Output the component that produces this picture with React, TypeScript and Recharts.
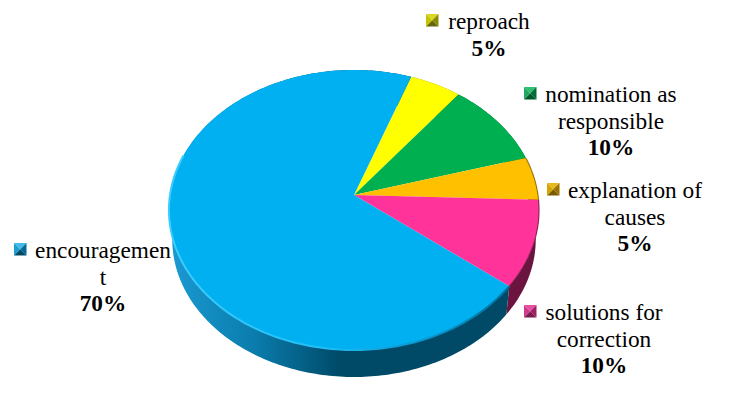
import { PieChart, Pie, Cell } from "recharts";

const categories = [
  "reproach",
  "nomination as responsible",
  "explanation of causes",
  "solutions for correction",
  "encouragement",
];
const shares = [5, 10, 5, 10, 70];
const labelLines = [
  ["reproach"],
  ["nomination as", "responsible"],
  ["explanation of", "causes"],
  ["solutions for", "correction"],
  ["encouragemen", "t"],
];
const faceColors = ["#FFFF00", "#00B050", "#FFC000", "#FF3399", "#00B0F0"];
const wallColors = ["#7F7F00", "#00582A", "#806000", "#6B1440", "#004A68"];
// marker facets: top, right, bottom, left
const markerShades = [
  ["#D9D926", "#8C8C00", "#66660A", "#C4C400"],
  ["#2EBE74", "#006E33", "#00582A", "#1FA860"],
  ["#E8B820", "#9A7300", "#7A5C00", "#D4A400"],
  ["#E84FA0", "#A02068", "#7A1A4E", "#D03A8C"],
  ["#3FBCEC", "#006A94", "#004A68", "#1E9FD2"],
];

// where each label block sits: centre x, first baseline, marker x
const labelLayout = [
  { x: 489, y: 29, mx: 426 },
  { x: 611, y: 102, mx: 524 },
  { x: 635, y: 198, mx: 547 },
  { x: 604, y: 320, mx: 524 },
  { x: 103, y: 258, mx: 14 },
];

const WIDTH = 749;
const HEIGHT = 418;
const TILT_Y = 138.4 / 184; // vertical squash of the disc
const PERSPECTIVE = 0.107; // far edge looks smaller than near edge
const WALL_DROP = 29.8;
const WALL_SHRINK = 0.982;

// tilted-disc projection of a polar point
function project(cx: number, cy: number, r: number, deg: number) {
  const a = (deg * Math.PI) / 180;
  const u = Math.cos(a);
  const v = Math.sin(a);
  const w = 1 + PERSPECTIVE * v;
  return { x: cx + (r * u) / w, y: cy - (r * TILT_Y * v) / w };
}

function arcPoints(cx: number, cy: number, r: number, from: number, to: number) {
  const steps = Math.max(2, Math.ceil(Math.abs(from - to)));
  const pts = [];
  for (let i = 0; i <= steps; i++) {
    pts.push(project(cx, cy, r, from + ((to - from) * i) / steps));
  }
  return pts;
}

const toPath = (pts: { x: number; y: number }[]) =>
  pts.map((p, i) => `${i ? "L" : "M"}${p.x.toFixed(2)} ${p.y.toFixed(2)}`).join(" ");

function WallShape(props: any) {
  const { cx, cy, outerRadius, startAngle, endAngle, index } = props;
  const top = arcPoints(cx, cy, outerRadius, startAngle, endAngle);
  const bottom = top
    .map((p) => ({
      x: cx + (p.x - cx) * WALL_SHRINK,
      y: cy + (p.y - cy) * WALL_SHRINK + WALL_DROP,
    }))
    .reverse();
  const id = `wall-${index}`;
  return (
    <g>
      <defs>
        <linearGradient id={id} gradientUnits="userSpaceOnUse" x1={170} y1={0} x2={340} y2={0}>
          <stop offset="0" stopColor={index === 4 ? "#1A9AD2" : wallColors[index]} />
          <stop offset="0.5" stopColor={index === 4 ? "#0A7CAC" : wallColors[index]} />
          <stop offset="1" stopColor={wallColors[index]} />
        </linearGradient>
      </defs>
      <path d={toPath([...top, ...bottom]) + " Z"} fill={`url(#${id})`} />
    </g>
  );
}

function FaceShape(props: any) {
  const { cx, cy, outerRadius, startAngle, endAngle, fill, index } = props;
  const arc = arcPoints(cx, cy, outerRadius, startAngle, endAngle);
  // only the front part of the rim catches the bevel
  const rim = arc.filter((p) => p.y > cy - 40);
  const id = `rim-${index}`;
  return (
    <g>
      <defs>
        <linearGradient id={id} gradientUnits="userSpaceOnUse" x1={170} y1={0} x2={510} y2={0}>
          <stop offset="0" stopColor="#3CCDFF" />
          <stop offset="0.45" stopColor="#22BEF6" />
          <stop offset="0.7" stopColor="#0A9CD4" />
          <stop offset="1" stopColor="#04709C" />
        </linearGradient>
      </defs>
      <path d={toPath([{ x: cx, y: cy }, ...arc]) + " Z"} fill={fill} />
      {index >= 2 && (
        <path
          d={toPath(rim)}
          fill="none"
          stroke={index === 4 ? `url(#${id})` : wallColors[index]}
          strokeWidth={index === 4 ? 2 : 1.2}
          strokeOpacity={index === 4 ? 1 : 0.7}
        />
      )}
    </g>
  );
}

function SliceLabel(props: any) {
  const { index } = props;
  const { x, y, mx } = labelLayout[index];
  const lines = labelLines[index];
  const shades = markerShades[index];
  const s = 12.5;
  const my = y - 15;
  const c = { x: mx + s / 2, y: my + s / 2 };
  const corners = [
    { x: mx, y: my },
    { x: mx + s, y: my },
    { x: mx + s, y: my + s },
    { x: mx, y: my + s },
  ];
  return (
    <g>
      {corners.map((p, i) => {
        const q = corners[(i + 1) % 4];
        return (
          <polygon
            key={i}
            points={`${p.x},${p.y} ${q.x},${q.y} ${c.x},${c.y}`}
            fill={shades[i]}
          />
        );
      })}
      <text
        textAnchor="middle"
        fontFamily="'Liberation Serif', serif"
        fontSize={23.3}
        fill="#000"
      >
        {lines.map((line, i) => (
          <tspan key={i} x={x} y={y + i * 27}>
            {line}
          </tspan>
        ))}
        <tspan x={x} y={y + lines.length * 26.7} fontWeight="bold">
          {shares[index]}%
        </tspan>
      </text>
    </g>
  );
}

export default function App() {
  const data = categories.map((name, i) => ({ name, value: shares[i] }));

  return (
    <div style={{ position: "absolute", left: 0, top: 0, width: WIDTH, height: HEIGHT, background: "#fff" }}>
      <PieChart width={WIDTH} height={HEIGHT} margin={{ top: 0, right: 0, bottom: 0, left: 0 }}>
        <Pie
          data={data}
          dataKey="value"
          cx={354}
          cy={195}
          outerRadius={184}
          startAngle={70}
          endAngle={-290}
          stroke="none"
          isAnimationActive={false}
          shape={WallShape}
        />
        <Pie
          data={data}
          dataKey="value"
          cx={354}
          cy={195}
          outerRadius={184}
          startAngle={70}
          endAngle={-290}
          stroke="none"
          isAnimationActive={false}
          shape={FaceShape}
          label={SliceLabel}
          labelLine={false}
        >
          {data.map((d, i) => (
            <Cell key={d.name} fill={faceColors[i]} />
          ))}
        </Pie>
      </PieChart>
    </div>
  );
}
